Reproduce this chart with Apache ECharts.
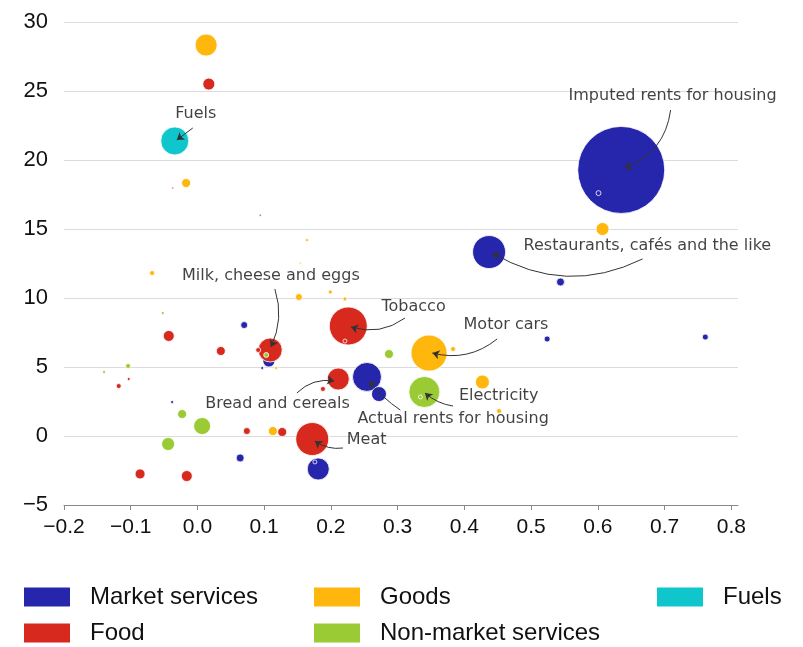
<!DOCTYPE html>
<html><head><meta charset="utf-8">
<script src="https://cdn.jsdelivr.net/npm/echarts@6/dist/echarts.min.js"></script>
<style>html,body{margin:0;padding:0;background:#fff}#c{width:803px;height:647px}</style>
</head><body><div id="c"></div>
<script>
const categories = ['Market services', 'Food', 'Goods', 'Non-market services', 'Fuels'];
const colors = ['#2626AD', '#D7291E', '#FFB60D', '#9ACB34', '#0FC6CC'];
const xTicks = [-0.2, -0.1, 0, 0.1, 0.2, 0.3, 0.4, 0.5, 0.6, 0.7, 0.8];
const yTicks = [-5, 0, 5, 10, 15, 20, 25, 30];

// each point: [x, y, weight]
const marketServices = [
  [0.635, 19.28, 75.7], [0.437, 13.33, 10.9], [0.544, 11.16, 0.64], [0.524, 7.03, 0.36],
  [0.761, 7.17, 0.36], [0.254, 4.28, 8.4], [0.272, 3.04, 2.25], [0.181, -2.39, 4.84],
  [0.064, -1.59, 0.64], [0.070, 8.04, 0.49], [0.107, 5.43, 1.44], [0.097, 4.93, 0.09],
  [-0.038, 2.46, 0.09], [-0.019, 1.59, 0.09], [0.094, 16.0, 0.04], [0.601, 17.6, 0.25],
  [0.176, -1.88, 0.16]
];
const food = [
  [0.017, 25.5, 1.44], [0.226, 7.97, 14.4], [0.109, 6.23, 5.76], [0.211, 4.13, 4.84],
  [0.172, -0.22, 10.9], [-0.043, 7.25, 1.21], [0.035, 6.16, 0.81], [0.091, 6.23, 0.25],
  [-0.118, 3.62, 0.25], [-0.103, 4.13, 0.09], [0.074, 0.36, 0.49], [-0.086, -2.75, 1.0],
  [-0.016, -2.9, 1.21], [0.127, 0.29, 0.81], [0.188, 3.41, 0.25], [-0.037, 17.97, 0.04],
  [0.221, 6.88, 0.16]
];
const goods = [
  [0.013, 28.33, 4.84], [-0.017, 18.33, 0.81], [0.347, 6.01, 13.0], [0.383, 6.30, 0.25],
  [0.427, 3.91, 1.96], [0.452, 1.81, 0.25], [0.607, 15.0, 1.69], [-0.068, 11.81, 0.25],
  [0.152, 10.07, 0.49], [0.199, 10.43, 0.16], [0.221, 9.93, 0.16], [0.154, 12.54, 0.04],
  [0.164, 14.2, 0.09], [0.113, 0.36, 0.81], [0.118, 4.93, 0.09]
];
const nonMarketServices = [
  [0.340, 3.19, 9.6], [0.287, 5.94, 0.81], [0.007, 0.72, 2.89], [-0.044, -0.58, 1.69],
  [-0.023, 1.59, 0.81], [-0.104, 5.07, 0.25], [-0.140, 4.64, 0.09], [-0.052, 8.91, 0.09],
  [0.103, 5.87, 0.25], [0.334, 2.83, 0.16]
];
const fuels = [
  [-0.034, 21.38, 7.84]
];

// annotations
const noteTexts = ['Imputed rents for housing', 'Restaurants, cafés and the like', 'Milk, cheese and eggs',
  'Tobacco', 'Motor cars', 'Electricity', 'Actual rents for housing', 'Bread and cereals', 'Meat', 'Fuels'];
const notePos = [[0.712, 24.64], [0.488, 13.77], [0.110, 11.59], [0.275, 9.35], [0.398, 8.04],
  [0.391, 2.90], [0.239, 1.23], [0.011, 2.32], [0.223, -0.29], [-0.034, 23.33]];
const noteAlign = ['center', 'left', 'center', 'left', 'left', 'left', 'left', 'left', 'left', 'left'];
const arrowFrom = [[0.709, 23.62], [0.667, 12.83], [0.116, 10.65], [0.311, 8.55], [0.449, 7.03],
  [0.383, 2.17], [0.304, 1.88], [0.149, 3.12], [0.218, -0.87], [-0.007, 22.32]];
const arrowTo = [[0.640, 19.42], [0.442, 13.26], [0.110, 6.45], [0.230, 7.90], [0.352, 6.01],
  [0.341, 3.12], [0.257, 3.99], [0.205, 3.99], [0.176, -0.36], [-0.031, 21.45]];
const arrowCurve = [0.3, 0.27, 0.2, 0.25, 0.25, 0.15, 0.08, 0.25, 0.2, 0];

const seriesData = [marketServices, food, goods, nonMarketServices, fuels];

const chart = echarts.init(document.getElementById('c'));
const fmt = v => (Math.abs(v) < 1e-9 ? 0 : v);
const series = categories.map((name, i) => ({
  name: name,
  type: 'scatter',
  data: seriesData[i].slice().sort((a, b) => b[2] - a[2]),
  symbolSize: d => 10 * Math.sqrt(d[2]),
  itemStyle: { color: colors[i], borderColor: '#fff', borderWidth: 0.8, opacity: 1 },
  emphasis: { disabled: true },
  silent: true
}));
series.push({
  name: '_notes',
  type: 'scatter',
  z: 10,
  silent: true,
  symbolSize: 1,
  itemStyle: { color: 'rgba(0,0,0,0)' },
  data: noteTexts.map((t, i) => ({
    name: t,
    value: notePos[i],
    label: { position: noteAlign[i] === 'left' ? 'right' : 'inside', distance: 0 }
  })),
  label: {
    show: true, formatter: '{b}', fontFamily: 'DejaVu Sans', fontSize: 16, color: '#111'
  }
});
series.push({
  name: '_arrows',
  type: 'lines',
  coordinateSystem: 'cartesian2d',
  z: 10,
  silent: true,
  symbol: ['none', 'arrow'],
  symbolSize: 7,
  lineStyle: { color: '#333', width: 1, opacity: 1 },
  data: arrowFrom.map((p, i) => ({
    coords: [p, arrowTo[i]],
    lineStyle: { curveness: arrowCurve[i] }
  }))
});

const legendBase = {
  orient: 'vertical', top: 585, height: 120, itemWidth: 48, itemHeight: 21, itemGap: 12, icon: 'rect',
  selectedMode: false, padding: 0,
  textStyle: { fontSize: 24, fontFamily: 'Liberation Sans', color: '#111', padding: [0, 0, 0, 14] }
};

chart.setOption({
  animation: false,
  grid: { left: 64, right: 65, top: 22, bottom: 142, containLabel: false },
  xAxis: {
    type: 'value', min: -0.2, max: 0.81,
    axisLine: { show: true, onZero: false, lineStyle: { color: '#888', width: 1 } },
    axisTick: { show: true, length: 5, customValues: xTicks, lineStyle: { color: '#888' } },
    splitLine: { show: false },
    axisLabel: {
      margin: 12, fontSize: 21, fontFamily: 'Liberation Sans', color: '#111', customValues: xTicks,
      formatter: v => fmt(v).toFixed(1).replace('-', '\u2212')
    }
  },
  yAxis: {
    type: 'value', min: -5, max: 30, interval: 5,
    axisLine: { show: false }, axisTick: { show: false },
    splitLine: { show: true, lineStyle: { color: '#dcdcdc', width: 1 } },
    axisLabel: {
      margin: 16, fontSize: 22, fontFamily: 'Liberation Sans', color: '#111', customValues: yTicks,
      formatter: v => String(fmt(v)).replace('-', '\u2212')
    }
  },
  legend: [
    Object.assign({}, legendBase, { left: 22, data: ['Market services', 'Food'] }),
    Object.assign({}, legendBase, { left: 312, data: ['Goods', 'Non-market services'] }),
    Object.assign({}, legendBase, { left: 655, data: ['Fuels'] })
  ],
  series: series
});
</script>
</body></html>
